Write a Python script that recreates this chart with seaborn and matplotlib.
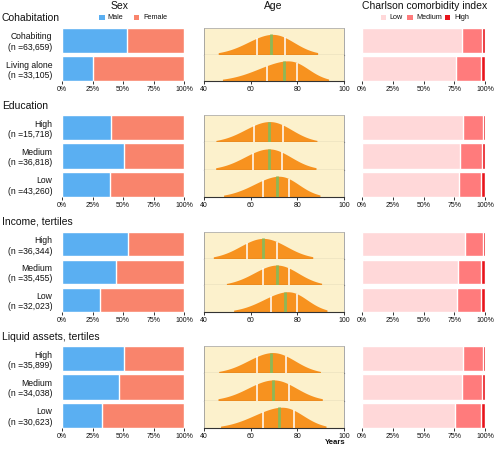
import numpy as np
import pandas as pd
import matplotlib
matplotlib.use("Agg")
import matplotlib.pyplot as plt
import seaborn as sns
from matplotlib.patches import Rectangle

sns.set_theme(style="white")
plt.rcParams['font.family'] = ['Liberation Sans', 'DejaVu Sans']

# ---------------- data ----------------
group_titles = ["Cohabitation", "Education", "Income, tertiles", "Liquid assets, tertiles"]
row_names = [["Cohabiting", "Living alone"], ["High", "Medium", "Low"],
             ["High", "Medium", "Low"], ["High", "Medium", "Low"]]
row_n = [["63,659", "33,105"], ["15,718", "36,818", "43,260"],
         ["36,344", "35,455", "32,023"], ["35,899", "34,038", "30,623"]]

male_pct = [[53, 25.7], [40.5, 51, 39.5], [54, 44, 31], [50.5, 46.5, 32.5]]
female_pct = [[47, 74.3], [59.5, 49, 60.5], [46, 56, 69], [49.5, 53.5, 67.5]]

cci_low = [[81, 76.5], [82.5, 80, 78.5], [83.5, 78, 77], [82.5, 81, 76]]
cci_med = [[16.5, 20.2], [15.5, 17.5, 18.2], [14.9, 19, 20], [15.5, 16.5, 20.5]]
cci_high = [[2.5, 3.3], [2, 2.5, 3.3], [1.6, 3, 3], [2, 2.5, 3.5]]

age_min = [[46.1, 47.9], [45.1, 45.0, 48.4], [44.0, 49.6, 52.7], [46.3, 46.0, 47.1]]
age_q1 = [[62.6, 67.1], [61.4, 61.0, 65.1], [58.3, 65.3, 68.7], [62.7, 62.9, 65.1]]
age_med = [[68.7, 74.1], [67.7, 67.7, 71.1], [65.1, 71.1, 74.7], [68.9, 69.7, 72.1]]
age_q3 = [[74.6, 80.0], [73.9, 73.6, 76.6], [71.3, 76.6, 80.0], [75.0, 76.3, 78.7]]
age_max = [[88.7, 93.4], [88.4, 88.0, 89.7], [86.6, 90.4, 92.7], [89.9, 90.7, 92.3]]

age_grid = [43, 46, 49, 52, 55, 58, 61, 64, 67, 70, 73, 76, 79, 82, 85, 88, 91, 94]
age_heights = [
    [[.042, .082, .149, .249, .382, .544, .714, .865, .969, .999, .928, .762, .553, .355, .202, .101, .045, .018],
     [.034, .061, .101, .162, .244, .350, .476, .614, .750, .869, .956, .998, .960, .788, .549, .325, .163, .069]],
    [[.052, .101, .178, .292, .441, .614, .782, .918, .992, .982, .873, .693, .493, .314, .178, .091, .042, .017],
     [.054, .104, .184, .301, .452, .625, .794, .927, .995, .976, .855, .673, .475, .297, .167, .085, .038, .015],
     [.025, .051, .095, .167, .273, .407, .568, .733, .876, .972, .999, .908, .708, .475, .273, .135, .057, .021]],
    [[.066, .130, .232, .375, .557, .743, .900, .989, .986, .891, .732, .546, .365, .224, .125, .063, .028, .012],
     [.015, .035, .073, .141, .249, .390, .568, .750, .904, .990, .984, .869, .685, .475, .297, .162, .079, .034],
     [.007, .017, .037, .073, .133, .224, .350, .505, .673, .830, .947, .999, .944, .760, .516, .301, .146, .061]],
    [[.040, .078, .143, .240, .375, .540, .708, .864, .967, 1.0, .934, .783, .588, .391, .236, .127, .060, .026],
     [.044, .085, .151, .249, .380, .540, .708, .855, .962, 1.0, .950, .810, .625, .435, .273, .152, .078, .036],
     [.038, .069, .117, .191, .292, .418, .564, .708, .845, .947, .997, .971, .830, .619, .407, .232, .117, .051]],
]

pct_ticks = [0, 25, 50, 75, 100]
pct_labels = ["0%", "25%", "50%", "75%", "100%"]
age_ticks = [40, 60, 80, 100]

# ---------------- style ----------------
MALE = "#5AAFF2"
FEMALE = "#F9846C"
C_LOW = "#FFD8D9"
C_MED = "#FF7B7C"
C_HIGH = "#E8141C"
BEIGE = "#FCF1CC"
ORANGE = "#F7921F"
GREEN = "#8DB857"
TXT = "#111111"

W, H = 500, 449
fig = plt.figure(figsize=(W / 100, H / 100), dpi=100)


def add_ax(x0, x1, top, bottom):
    return fig.add_axes([x0 / W, 1 - bottom / H, (x1 - x0) / W, (bottom - top) / H])


def ftext(x, y, s, **kw):
    kw.setdefault("color", TXT)
    fig.text(x / W, 1 - y / H, s, **kw)


def fsquare(x, y, size, color):
    fig.add_artist(Rectangle((x / W, 1 - (y + size / 2) / H), size / W, size / H,
                             transform=fig.transFigure, color=color, lw=0))


def style_pct_axis(ax, n, bw):
    ax.set_xlim(0, 100)
    ax.set_ylim(n - 1 + bw / 2, -bw / 2)
    ax.set_xlabel("")
    ax.set_ylabel("")
    for sp in ax.spines.values():
        sp.set_visible(False)
    ax.set_xticks(pct_ticks)
    ax.set_xticklabels(pct_labels)
    ax.tick_params(axis="x", bottom=True, length=2, width=0.6, pad=1.5,
                   labelsize=5, colors=TXT)


boxes = [(28, 81), (115, 197), (232, 312), (346, 428)]
BW = 0.88

for g in range(4):
    top, bot = boxes[g]
    n = len(row_names[g])
    labels = [f"{a}\n(n ={b})" for a, b in zip(row_names[g], row_n[g])]

    # ---- Sex ----
    ax = add_ax(62, 184, top, bot)
    df = pd.DataFrame({"label": labels, "male": male_pct[g], "female": female_pct[g]})
    df["total"] = df["male"] + df["female"]
    sns.barplot(data=df, x="total", y="label", color=FEMALE, width=BW, ax=ax,
                orient="h", saturation=1, errorbar=None)
    sns.barplot(data=df, x="male", y="label", color=MALE, width=BW, ax=ax,
                orient="h", saturation=1, errorbar=None)
    style_pct_axis(ax, n, BW)
    ax.tick_params(axis="y", left=False, length=0, pad=7, labelsize=6.2, colors=TXT)

    # ---- Charlson ----
    ax = add_ax(362, 485, top, bot)
    dc = pd.DataFrame({"label": labels, "low": cci_low[g], "med": cci_med[g], "high": cci_high[g]})
    dc["lm"] = dc["low"] + dc["med"]
    dc["all"] = dc["lm"] + dc["high"]
    sns.barplot(data=dc, x="all", y="label", color=C_HIGH, width=BW, ax=ax,
                orient="h", saturation=1, errorbar=None)
    sns.barplot(data=dc, x="lm", y="label", color=C_MED, width=BW, ax=ax,
                orient="h", saturation=1, errorbar=None)
    sns.barplot(data=dc, x="low", y="label", color=C_LOW, width=BW, ax=ax,
                orient="h", saturation=1, errorbar=None)
    style_pct_axis(ax, n, BW)
    ax.set_yticks([])

    # ---- Age ----
    edges = np.linspace(top, bot, n + 1)
    for i in range(n):
        ax = add_ax(204, 344, edges[i], edges[i + 1])
        ax.set_facecolor(BEIGE)
        sns.kdeplot(x=np.array(age_grid, float), weights=np.array(age_heights[g][i]),
                    fill=True, clip=(age_min[g][i], age_max[g][i]), bw_method=0.22,
                    color=ORANGE, alpha=1, linewidth=0, ax=ax, gridsize=300)
        verts = ax.collections[0].get_paths()[0].vertices
        m = verts[:, 1] > 1e-12
        xs, ys = verts[m, 0], verts[m, 1]
        o = np.argsort(xs)
        xs, ys = xs[o], ys[o]
        ax.set_ylim(0, ys.max() / 0.76)
        ax.set_xlim(40, 100)
        for q, c, lw in [(age_q1[g][i], "white", 1.1), (age_q3[g][i], "white", 1.1),
                         (age_med[g][i], GREEN, 2.0)]:
            ax.vlines(q, 0, np.interp(q, xs, ys), color=c, lw=lw, zorder=3)
        ax.set_xlabel("")
        ax.set_ylabel("")
        ax.set_yticks([])
        for s in ["left", "right"]:
            ax.spines[s].set_color("#9a9a9a")
            ax.spines[s].set_linewidth(0.6)
        ax.spines["bottom"].set_color("#333333")
        ax.spines["bottom"].set_linewidth(0.8)
        if i == 0:
            ax.spines["top"].set_color("#b0b0b0")
            ax.spines["top"].set_linewidth(0.6)
        else:
            ax.spines["top"].set_visible(False)
        if i == n - 1:
            ax.set_xticks(age_ticks)
            ax.set_xticklabels([str(t) for t in age_ticks])
            ax.tick_params(axis="x", bottom=True, length=2, width=0.6, pad=1.5,
                           labelsize=5, colors=TXT)
        else:
            ax.set_xticks([])

# ---- titles / legends ----
ftext(120, 6, "Sex", ha="center", va="center", fontsize=7.5)
ftext(273, 6, "Age", ha="center", va="center", fontsize=7.5)
ftext(425, 6, "Charlson comorbidity index", ha="center", va="center", fontsize=7.5)

fsquare(99, 17.3, 5.6, MALE)
ftext(107.7, 17.3, "Male", ha="left", va="center", fontsize=5.2)
fsquare(133.7, 17.3, 5.6, FEMALE)
ftext(143, 17.3, "Female", ha="left", va="center", fontsize=5.2)

fsquare(380.7, 17.3, 5.4, C_LOW)
ftext(389, 17.3, "Low", ha="left", va="center", fontsize=5.2)
fsquare(407.3, 17.3, 5.4, C_MED)
ftext(416, 17.3, "Medium", ha="left", va="center", fontsize=5.2)
fsquare(445, 17.3, 5.4, C_HIGH)
ftext(454.3, 17.3, "High", ha="left", va="center", fontsize=5.2)

for t, y in zip(group_titles, [18, 106, 222, 337.5]):
    ftext(2, y, t, ha="left", va="center", fontsize=7.5)

ftext(335, 443, "Years", ha="center", va="center", fontsize=5.6, fontweight="bold")

fig.savefig("out.png", dpi=100)
